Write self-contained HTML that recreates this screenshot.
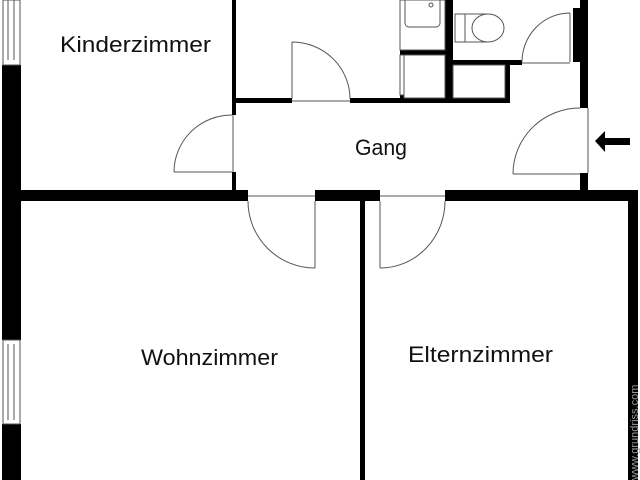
<!DOCTYPE html>
<html><head><meta charset="utf-8"><style>
html,body{margin:0;padding:0;background:#fff;}
svg{display:block}
text{font-family:"Liberation Sans",sans-serif;fill:#111;}
</style></head><body>
<svg width="640" height="480" viewBox="0 0 640 480" xmlns="http://www.w3.org/2000/svg">
<rect width="640" height="480" fill="#fff"/>
<g fill="#000">
<rect x="2" y="65" width="19" height="275"/>
<rect x="2" y="424" width="19" height="56"/>
<rect x="21" y="190" width="227" height="11"/>
<rect x="315" y="190" width="65" height="11"/>
<rect x="445" y="190" width="193" height="11"/>
<rect x="360" y="201" width="5" height="279"/>
<rect x="628" y="190" width="10" height="290"/>
<rect x="580" y="0" width="8" height="108"/>
<rect x="580" y="173" width="8" height="17"/>
<rect x="573" y="8" width="7" height="54"/>
<rect x="232" y="0" width="4" height="115"/>
<rect x="232" y="172" width="4" height="18"/>
<rect x="236" y="98" width="56" height="5"/>
<rect x="350" y="98" width="160" height="5"/>
<rect x="445" y="0" width="8" height="100"/>
<rect x="453" y="60" width="69" height="5"/>
<rect x="505" y="65" width="5" height="38"/>
<rect x="400" y="50" width="45" height="5"/>
<rect x="400" y="95" width="4" height="5"/>
</g>
<g fill="none" stroke="#555" stroke-width="1">
<rect x="3" y="0" width="17" height="65"/>
<line x1="8" y1="0" x2="8" y2="60"/><line x1="14" y1="0" x2="14" y2="60"/>
<rect x="3" y="340" width="17" height="84"/>
<line x1="8" y1="344" x2="8" y2="420"/><line x1="14" y1="344" x2="14" y2="420"/>
<line x1="174" y1="172" x2="232" y2="172"/>
<path d="M174 172 A58 57 0 0 1 232 115"/>
<line x1="233" y1="115" x2="233" y2="172"/>
<line x1="292" y1="42" x2="292" y2="99"/>
<path d="M292 42 A58 57 0 0 1 350 99"/>
<line x1="292" y1="101" x2="350" y2="101"/>
<line x1="570" y1="13" x2="570" y2="62"/>
<path d="M570 13 A48 49 0 0 0 522 62"/>
<line x1="522" y1="63" x2="570" y2="63"/>
<line x1="513" y1="174" x2="580" y2="174"/>
<path d="M513 174 A67 66 0 0 1 580 108"/>
<line x1="588" y1="108" x2="588" y2="173"/>
<line x1="315" y1="201" x2="315" y2="268"/>
<path d="M248 201 A67 67 0 0 0 315 268"/>
<line x1="248" y1="196" x2="315" y2="196"/>
<line x1="380" y1="201" x2="380" y2="268"/>
<path d="M445 201 A65 67 0 0 1 380 268"/>
<line x1="380" y1="196" x2="445" y2="196"/>
<rect x="400" y="0" width="45" height="50"/>
<rect x="405" y="-5" width="35" height="32" rx="4"/>
<circle cx="431" cy="5" r="2"/>
<rect x="400" y="55" width="4" height="40"/>
<rect x="404" y="55" width="41" height="43"/>
<rect x="455" y="14" width="10" height="28"/>
<ellipse cx="488" cy="28" rx="16" ry="14"/>
<path d="M465 14 H488 M465 42 H488"/>
<rect x="453" y="65" width="52" height="33"/>
</g>
<path d="M595 141 L605 131 L605 138 L630 138 L630 145 L605 145 L605 152 Z" fill="#000"/>
<text x="60" y="52" font-size="22" textLength="151" lengthAdjust="spacingAndGlyphs">Kinderzimmer</text>
<text x="355" y="155" font-size="22" textLength="52" lengthAdjust="spacingAndGlyphs">Gang</text>
<text x="141" y="365" font-size="22" textLength="137" lengthAdjust="spacingAndGlyphs">Wohnzimmer</text>
<text x="408" y="362" font-size="22" textLength="145" lengthAdjust="spacingAndGlyphs">Elternzimmer</text>
<text x="0" y="0" font-size="11" style="fill:#999" transform="translate(638,480) rotate(-90)">www.grundriss.com</text>
</svg>
</body></html>
